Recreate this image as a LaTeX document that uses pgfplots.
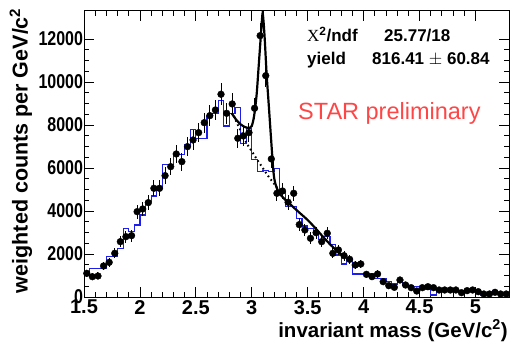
\documentclass[border=0pt]{standalone}
\usepackage{pgfplots}
\pgfplotsset{compat=1.18}
\usepackage{pgfplotstable}
\usepackage{fontspec}
\setmainfont{Liberation Sans}
\newfontfamily\serifX{Liberation Serif}
\definecolor{histblue}{RGB}{30,30,235}
\definecolor{starred}{RGB}{255,70,70}

\pgfplotstableread{
x y
1.50 1023
1.55 1335
1.60 1335
1.65 1335
1.70 1876
1.75 1876
1.80 2264
1.85 3194
1.90 3039
1.95 3349
2.00 3814
2.05 4434
2.10 4698
2.15 5054
2.20 6170
2.25 6170
2.30 6636
2.35 6636
2.40 7070
2.45 7798
2.50 7380
2.55 7380
2.60 8388
2.65 8543
2.70 9150
2.75 7953
2.80 8520
2.85 8800
2.90 7130
2.95 7830
3.00 6410
3.05 5830
3.10 5900
3.15 5830
3.20 5984
3.25 4900
3.30 4202
3.35 4220
3.40 3640
3.45 3302
3.50 3194
3.55 2930
3.60 2682
3.65 2806
3.70 2450
3.75 1953
3.80 1535
3.85 1798
3.90 1070
3.95 1070
4.00 1100
4.05 1100
4.10 868
4.15 868
4.20 713
4.25 605
4.30 713
4.35 558
4.40 480
4.45 480
4.50 356
4.55 356
4.60 93
4.65 326
4.70 326
4.75 326
4.80 326
4.85 201
4.90 248
4.95 248
5.00 248
5.05 93
5.10 140
5.15 279
5.20 171
5.25 93
5.30 93
}\histtable

\pgfplotstableread{
x y e
1.525 1100 172
1.575 944 160
1.625 977 163
1.675 1442 197
1.725 1612 209
1.775 2031 234
1.825 2574 264
1.875 2806 275
1.925 2853 278
1.975 3969 328
2.025 4093 333
2.075 4388 344
2.125 5054 370
2.175 5054 370
2.225 5643 391
2.275 6062 405
2.325 6651 424
2.375 6295 413
2.425 6992 435
2.475 7302 444
2.525 7643 455
2.575 8107 468
2.625 8433 478
2.675 8698 485
2.725 9428 505
2.775 8543 481
2.825 8977 493
2.875 7381 447
2.925 7488 450
2.975 7643 455
3.025 8777 487
3.075 12153 573
3.125 10293 528
3.175 6419 417
3.225 4823 361
3.275 4930 365
3.325 4404 345
3.375 4823 361
3.425 3365 302
3.475 3116 290
3.525 2730 272
3.575 2991 284
3.625 2574 264
3.675 2963 283
3.725 2031 234
3.775 2186 243
3.825 1922 228
3.875 1752 218
3.925 1488 201
3.975 1535 204
4.025 1054 169
4.075 946 160
4.125 1070 170
4.175 713 139
4.225 527 119
4.275 450 110
4.325 791 146
4.375 558 123
4.425 434 108
4.475 279 87
4.525 434 108
4.575 480 114
4.625 434 108
4.675 326 94
4.725 326 94
4.775 326 94
4.825 326 94
4.875 201 74
4.925 295 89
4.975 326 94
5.025 248 82
5.075 140 62
5.125 140 62
5.175 218 77
5.225 140 62
5.275 140 62
}\datatable

\begin{document}
\begin{tikzpicture}[x=1pt,y=1pt]
\useasboundingbox (-84,-45) rectangle (426,297);
\begin{axis}[
  at={(0,0)}, anchor=south west,
  width=425pt, height=286pt, scale only axis,
  xmin=1.5, xmax=5.3, ymin=0, ymax=13300,
  xtick={1.5,2,2.5,3,3.5,4,4.5,5},
  ytick={0,2000,4000,6000,8000,10000,12000},
  minor x tick num=4, minor y tick num=3,
  tick align=inside, tick pos=both,
  major tick length=10pt, minor tick length=5pt,
  axis line style={line width=1pt},
  tick style={line width=0.8pt, black},
  scaled y ticks=false,
  /pgf/number format/assume math mode=true,
  /pgf/number format/1000 sep={},
  tick label style={font=\fontsize{20}{22}\selectfont\bfseries},
  yticklabel style={xscale=0.8, inner sep=1pt},
  xticklabel style={inner sep=2pt, yshift=-1pt},
  clip=true,
]
\addplot[histblue, line width=1.2pt, const plot mark left] table[x=x,y=y] {\histtable};
\addplot[black, line width=2.2pt, smooth, tension=0.4] coordinates {
(2.82,8550) (2.86,8250) (2.90,8030) (2.94,7900) (2.98,7860) (3.00,7950)
(3.015,8250) (3.03,8750) (3.045,9500) (3.06,10600) (3.075,11700) (3.087,12600)
(3.097,13200) (3.107,12700) (3.117,11900) (3.133,10350) (3.153,8850) (3.168,7700)
(3.18,6800) (3.19,6050) (3.20,5550) (3.21,5290) (3.225,5050) (3.24,4880)
(3.27,4680) (3.30,4520) (3.35,4280) (3.42,3950) (3.50,3580) (3.56,3250)
(3.62,2900) (3.70,2450) (3.77,2110) (3.80,1980)};
\addplot[black, line width=2pt, dash pattern=on 1.6pt off 3pt, smooth] coordinates {
(2.84,8420) (2.88,7950) (2.92,7520) (2.96,7100) (3.00,6780) (3.04,6450)
(3.08,6140) (3.12,5830) (3.16,5530) (3.20,5270) (3.23,5050)};
\addplot[only marks, mark=*, mark size=3.4pt, black,
  error bars/.cd, y dir=both, y explicit, error mark=none,
  error bar style={line width=1pt, black}]
  table[x=x, y=y, y error=e] {\datatable};
\end{axis}
\node[rotate=90, anchor=east, inner sep=0pt, font=\fontsize{21.5}{23}\selectfont\bfseries] at (-63,289) {weighted counts per GeV/c$^{\mathbf{2}}$};
\node[anchor=base east, inner sep=0pt, font=\fontsize{20.5}{22}\selectfont\bfseries] at (424,-40) {invariant mass (GeV/c$^{\mathbf{2}}$)};
\node[anchor=base west, inner sep=0pt, font=\fontsize{17}{19}\selectfont\bfseries] at (223,255) {{\serifX\mdseries X}$^{\mathbf{2}}$/ndf};
\node[anchor=base west, inner sep=0pt, font=\fontsize{17}{19}\selectfont\bfseries] at (300,255) {25.77/18};
\node[anchor=base west, inner sep=0pt, font=\fontsize{17}{19}\selectfont\bfseries] at (223,232) {yield};
\node[anchor=base west, inner sep=0pt, font=\fontsize{17}{19}\selectfont\bfseries] at (288,232) {816.41 {\mdseries$\pm$} 60.84};
\node[anchor=base west, inner sep=0pt, text=starred, font=\fontsize{23.5}{26}\selectfont] at (214,177) {STAR preliminary};
\end{tikzpicture}
\end{document}
